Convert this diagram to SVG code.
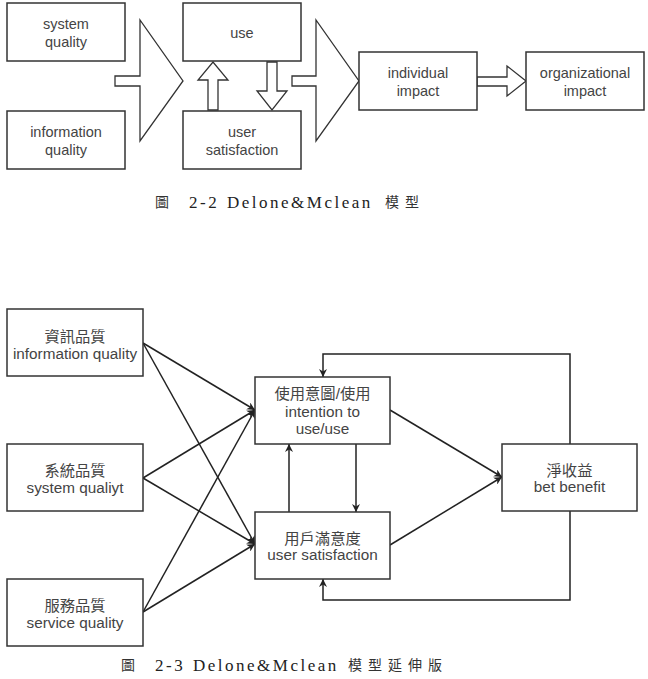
<svg xmlns="http://www.w3.org/2000/svg" width="648" height="679" viewBox="0 0 648 679">
<defs>
<marker id="ah" viewBox="0 0 10 10" refX="10" refY="5" markerWidth="8" markerHeight="8" markerUnits="userSpaceOnUse" orient="auto">
<path d="M0,0 L10,5 L0,10 L3,5 Z" fill="#222"/>
</marker>
<style>
.box{fill:#fff;stroke:#333;stroke-width:1.5}
.arr{fill:#fff;stroke:#333;stroke-width:1.3;stroke-linejoin:miter}
.t1{font-family:"Liberation Sans",Arial,sans-serif;font-size:14.5px;fill:#444;text-anchor:middle}
.t2{font-family:"Liberation Sans","Noto Sans CJK TC",sans-serif;font-size:15.3px;fill:#444;text-anchor:middle}
.cap{font-family:"Liberation Serif","Noto Sans CJK TC",serif;font-size:17px;fill:#222;letter-spacing:2.5px}
.capc{font-family:"Noto Sans CJK TC","Liberation Serif",serif;font-size:14px;fill:#333;letter-spacing:6px}
.ln{fill:none;stroke:#222;stroke-width:1.5}
</style>
</defs>
<rect width="648" height="679" fill="#fff"/>

<!-- Figure 2-2 -->
<g id="top-arrows">
<polygon class="arr" points="115,76 140,76 140,20 183,81 140,141 140,86 115,86"/>
<polygon class="arr" points="292,76 316,76 316,20 359,81 316,141 316,86 292,86"/>
<polygon class="arr" points="208,110 208,80 198,80 213,62 228,80 218,80 218,110"/>
<polygon class="arr" points="267,62 267,91 257,91 272,110 287,91 277,91 277,62"/>
<polygon class="arr" points="477,77 507,77 507,66 526,81 507,96 507,86 477,86"/>
</g>
<g id="system-quality">
<rect class="box" x="7" y="3" width="118" height="58"/>
<text class="t1" x="66" y="29">system</text>
<text class="t1" x="66" y="47">quality</text>
</g>
<g id="information-quality">
<rect class="box" x="7" y="111" width="118" height="58"/>
<text class="t1" x="66" y="137">information</text>
<text class="t1" x="66" y="155">quality</text>
</g>
<g id="use">
<rect class="box" x="183" y="3" width="118" height="58"/>
<text class="t1" x="242" y="38">use</text>
</g>
<g id="user-satisfaction">
<rect class="box" x="183" y="111" width="118" height="58"/>
<text class="t1" x="242" y="137">user</text>
<text class="t1" x="242" y="155">satisfaction</text>
</g>
<g id="individual-impact">
<rect class="box" x="359" y="52" width="118" height="58"/>
<text class="t1" x="418" y="78">individual</text>
<text class="t1" x="418" y="96">impact</text>
</g>
<g id="organizational-impact">
<rect class="box" x="526" y="52" width="118" height="58"/>
<text class="t1" x="585" y="78">organizational</text>
<text class="t1" x="585" y="96">impact</text>
</g>
<g id="caption1">
<text class="capc" x="155" y="207">圖</text>
<text class="cap" x="189" y="208">2-2</text>
<text class="cap" x="227" y="208">Delone&amp;Mclean</text>
<text class="capc" x="385" y="207">模型</text>
</g>

<!-- Figure 2-3 -->
<g id="connectors">
<line class="ln" x1="143" y1="343" x2="255" y2="410" marker-end="url(#ah)"/>
<line class="ln" x1="143" y1="343" x2="255" y2="544" marker-end="url(#ah)"/>
<line class="ln" x1="143" y1="478" x2="255" y2="410" marker-end="url(#ah)"/>
<line class="ln" x1="143" y1="478" x2="255" y2="544" marker-end="url(#ah)"/>
<line class="ln" x1="143" y1="612" x2="255" y2="410" marker-end="url(#ah)"/>
<line class="ln" x1="143" y1="612" x2="255" y2="544" marker-end="url(#ah)"/>
<line class="ln" x1="390" y1="410" x2="502" y2="477" marker-end="url(#ah)"/>
<line class="ln" x1="390" y1="545" x2="502" y2="477" marker-end="url(#ah)"/>
<line class="ln" x1="289" y1="512" x2="289" y2="444" marker-end="url(#ah)"/>
<line class="ln" x1="356" y1="444" x2="356" y2="512" marker-end="url(#ah)"/>
<polyline class="ln" points="570,444 570,354 323,354 323,377" marker-end="url(#ah)"/>
<polyline class="ln" points="570,511 570,600 323,600 323,579" marker-end="url(#ah)"/>
</g>
<g id="info-quality2">
<rect class="box" x="7" y="309" width="136" height="67"/>
<text class="t2" x="75" y="342">資訊品質</text>
<text class="t2" x="75" y="359">information quality</text>
</g>
<g id="system-quality2">
<rect class="box" x="7" y="444" width="136" height="67"/>
<text class="t2" x="75" y="476">系統品質</text>
<text class="t2" x="75" y="493">system qualiyt</text>
</g>
<g id="service-quality">
<rect class="box" x="7" y="579" width="136" height="67"/>
<text class="t2" x="75" y="611">服務品質</text>
<text class="t2" x="75" y="628">service quality</text>
</g>
<g id="intention-use">
<rect class="box" x="255" y="377" width="135" height="67"/>
<text class="t2" x="322.5" y="399">使用意圖/使用</text>
<text class="t2" x="322.5" y="417">intention to</text>
<text class="t2" x="322.5" y="434">use/use</text>
</g>
<g id="user-satisfaction2">
<rect class="box" x="255" y="512" width="135" height="67"/>
<text class="t2" x="322.5" y="544">用戶滿意度</text>
<text class="t2" x="322.5" y="560">user satisfaction</text>
</g>
<g id="net-benefit">
<rect class="box" x="502" y="444" width="135" height="67"/>
<text class="t2" x="569.5" y="476">淨收益</text>
<text class="t2" x="569.5" y="492">bet benefit</text>
</g>
<g id="caption2">
<text class="capc" x="121" y="670">圖</text>
<text class="cap" x="155" y="671">2-3</text>
<text class="cap" x="193" y="671">Delone&amp;Mclean</text>
<text class="capc" x="348" y="670">模型延伸版</text>
</g>
</svg>
